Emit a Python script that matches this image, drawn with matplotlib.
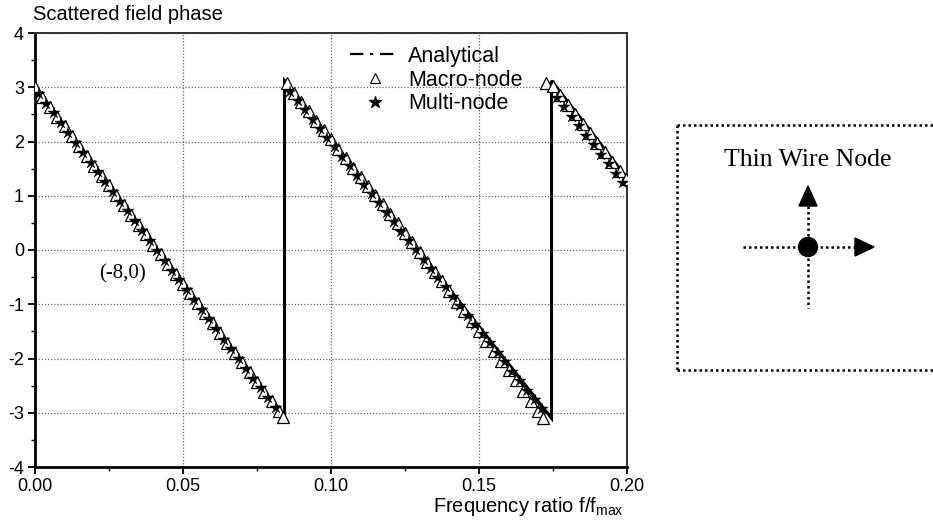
import matplotlib
matplotlib.use("Agg")
import matplotlib.pyplot as plt
from matplotlib.lines import Line2D
from matplotlib.patches import Circle, Polygon
from matplotlib.ticker import MultipleLocator

# ---------------- data ----------------
analytical_f = [0.0000, 0.0843, 0.0843, 0.1745, 0.1745, 0.2000]
analytical_phase = [3.00, -3.10, 3.12, -3.10, 3.12, 1.33]

macro_f = [
    0.0000, 0.0025, 0.0050, 0.0075, 0.0100, 0.0125, 0.0150, 0.0175, 0.0200, 0.0225,
    0.0250, 0.0275, 0.0300, 0.0325, 0.0350, 0.0375, 0.0400, 0.0425, 0.0450, 0.0475,
    0.0500, 0.0525, 0.0550, 0.0575, 0.0600, 0.0625, 0.0650, 0.0675, 0.0700, 0.0725,
    0.0750, 0.0775, 0.0800, 0.0825, 0.0838,
    0.0850, 0.0875, 0.0900, 0.0925, 0.0950, 0.0975, 0.1000, 0.1025, 0.1050, 0.1075,
    0.1100, 0.1125, 0.1150, 0.1175, 0.1200, 0.1225, 0.1250, 0.1275, 0.1300, 0.1325,
    0.1350, 0.1375, 0.1400, 0.1425, 0.1450, 0.1475, 0.1500, 0.1525, 0.1550, 0.1575,
    0.1600, 0.1625, 0.1650, 0.1675, 0.1700, 0.1715,
    0.1725, 0.1750, 0.1775, 0.1800, 0.1825, 0.1850, 0.1875, 0.1900, 0.1925, 0.1950,
    0.1975, 0.1995,
]
macro_phase = [
    3.00, 2.82, 2.64, 2.46, 2.28, 2.10, 1.91, 1.73, 1.55, 1.37,
    1.19, 1.01, 0.83, 0.65, 0.47, 0.29, 0.10, -0.08, -0.26, -0.44,
    -0.62, -0.80, -0.98, -1.16, -1.34, -1.53, -1.71, -1.89, -2.07, -2.25,
    -2.43, -2.61, -2.79, -2.97, -3.08,
    3.07, 2.90, 2.73, 2.56, 2.38, 2.21, 2.04, 1.87, 1.70, 1.52,
    1.35, 1.18, 1.01, 0.84, 0.66, 0.49, 0.31, 0.14, -0.04, -0.22,
    -0.40, -0.58, -0.76, -0.95, -1.13, -1.31, -1.49, -1.67, -1.86, -2.04,
    -2.22, -2.40, -2.59, -2.78, -2.97, -3.09,
    3.08, 3.02, 2.85, 2.67, 2.50, 2.32, 2.15, 1.97, 1.80, 1.62,
    1.45, 1.31,
]

multi_f = [
    0.00125, 0.00375, 0.00625, 0.00875, 0.01125, 0.01375, 0.01625, 0.01875, 0.02125, 0.02375,
    0.02625, 0.02875, 0.03125, 0.03375, 0.03625, 0.03875, 0.04125, 0.04375, 0.04625, 0.04875,
    0.05125, 0.05375, 0.05625, 0.05875, 0.06125, 0.06375, 0.06625, 0.06875, 0.07125, 0.07375,
    0.07625, 0.07875, 0.08125,
    0.08625, 0.08875, 0.09125, 0.09375, 0.09625, 0.09875, 0.10125, 0.10375, 0.10625, 0.10875,
    0.11125, 0.11375, 0.11625, 0.11875, 0.12125, 0.12375, 0.12625, 0.12875, 0.13125, 0.13375,
    0.13625, 0.13875, 0.14125, 0.14375, 0.14625, 0.14875, 0.15125, 0.15375, 0.15625, 0.15875,
    0.16125, 0.16375, 0.16625, 0.16875, 0.17125,
    0.17625, 0.17875, 0.18125, 0.18375, 0.18625, 0.18875, 0.19125, 0.19375, 0.19625, 0.19875,
]
multi_phase = [
    2.88, 2.70, 2.52, 2.34, 2.16, 1.97, 1.79, 1.61, 1.43, 1.25,
    1.07, 0.89, 0.71, 0.53, 0.35, 0.16, -0.02, -0.20, -0.38, -0.56,
    -0.74, -0.92, -1.10, -1.28, -1.46, -1.65, -1.83, -2.01, -2.19, -2.37,
    -2.55, -2.73, -2.91,
    2.92, 2.75, 2.58, 2.40, 2.23, 2.06, 1.89, 1.72, 1.54, 1.37,
    1.20, 1.03, 0.86, 0.68, 0.51, 0.34, 0.17, 0.00, -0.18, -0.35,
    -0.52, -0.69, -0.86, -1.04, -1.21, -1.38, -1.55, -1.72, -1.90, -2.07,
    -2.24, -2.41, -2.59, -2.76, -2.93,
    2.80, 2.63, 2.45, 2.28, 2.10, 1.93, 1.75, 1.58, 1.40, 1.23,
]

x_ticks = [0.00, 0.05, 0.10, 0.15, 0.20]
x_tick_labels = ["0.00", "0.05", "0.10", "0.15", "0.20"]
y_ticks = [-4, -3, -2, -1, 0, 1, 2, 3, 4]
y_tick_labels = ["-4", "-3", "-2", "-1", "0", "1", "2", "3", "4"]
series_labels = ["Analytical", "Macro-node", "Multi-node"]

# ---------------- figure ----------------
plt.rcParams["font.family"] = ["Liberation Sans", "DejaVu Sans"]
W, H = 933, 530
fig = plt.figure(figsize=(W / 100, H / 100), dpi=100)

# background overlay in pixel coordinates for the side panel
bg = fig.add_axes([0, 0, 1, 1])
bg.set_xlim(0, W)
bg.set_ylim(H, 0)
bg.axis("off")

dot = dict(color="black", lw=1.8, ls=(0, (1, 1.2)))
bx0, by0, by1 = 677, 125, 370
bg.plot([bx0, W + 5], [by0, by0], **dot)
bg.plot([bx0, bx0], [by0, by1], **dot)
bg.plot([bx0, W + 5], [by1, by1], **dot)
bg.text(808, 160, "Thin Wire Node", family="Liberation Serif", fontsize=18.5,
        ha="center", va="center")
cx, cy = 808, 247
bg.plot([cx, cx], [cy, 205], **dot)
bg.plot([cx, cx], [cy, 308], **dot)
bg.plot([743, 856], [cy, cy], **dot)
bg.add_patch(Circle((cx, cy), 9.5, color="black", zorder=5))
bg.add_patch(Polygon([(cx, 186), (cx - 9, 206), (cx + 9, 206)], closed=True, color="black"))
bg.add_patch(Polygon([(874, cy), (855, cy - 9), (855, cy + 9)], closed=True, color="black"))

# main axes
ax = fig.add_axes([35 / W, (H - 467) / H, 592 / W, 434 / H])
ax.plot(analytical_f, analytical_phase, color="black", lw=2.2, zorder=3,
        solid_joinstyle="miter")
ax.plot(macro_f, macro_phase, ls="none", marker="^", ms=8, mfc="white",
        mec="black", mew=0.9, zorder=4)
ax.plot(multi_f, multi_phase, ls="none", marker="*", ms=9, color="black",
        mew=0.3, zorder=5)

ax.set_xlim(0, 0.2)
ax.set_ylim(-4, 4)
ax.set_xticks(x_ticks)
ax.set_xticklabels(x_tick_labels)
ax.set_yticks(y_ticks)
ax.set_yticklabels(y_tick_labels)
ax.xaxis.set_minor_locator(MultipleLocator(0.025))
ax.yaxis.set_minor_locator(MultipleLocator(0.5))
ax.tick_params(which="major", direction="out", length=5, width=1.3, labelsize=13, pad=3)
ax.tick_params(which="minor", direction="out", length=3, width=1.0)
ax.grid(True, which="major", ls=(0, (1, 1.5)), color="#666666", lw=0.9)
for s in ["left", "bottom"]:
    ax.spines[s].set_linewidth(2.0)
for s in ["top", "right"]:
    ax.spines[s].set_linewidth(1.4)
    ax.spines[s].set_color("#333333")

handles = [
    Line2D([], [], color="black", lw=1.6, ls=(0, (6, 3, 1.5, 3))),
    Line2D([], [], ls="none", marker="^", ms=7, mfc="white", mec="black", mew=0.8),
    Line2D([], [], ls="none", marker="*", ms=9, color="black"),
]
leg = ax.legend(handles, series_labels, loc="upper left",
                bbox_to_anchor=((350 - 35) / 592, 1 - (46 - 33) / 434),
                frameon=False, fontsize=15.5, handlelength=2.3, handletextpad=0.4,
                labelspacing=0.12, borderpad=0, borderaxespad=0)

fig.text(33 / W, 1 - 15 / H, "Scattered field phase", fontsize=14.5, ha="left", va="center")
fig.text(624 / W, 1 - 507 / H, r"Frequency ratio f/f$_{\mathregular{max}}$", fontsize=14.5,
         ha="right", va="center")
fig.text(122 / W, 1 - 274 / H, "(-8,0)", family="Liberation Serif", fontsize=15,
         ha="center", va="center")

fig.savefig("out.png", dpi=100)
